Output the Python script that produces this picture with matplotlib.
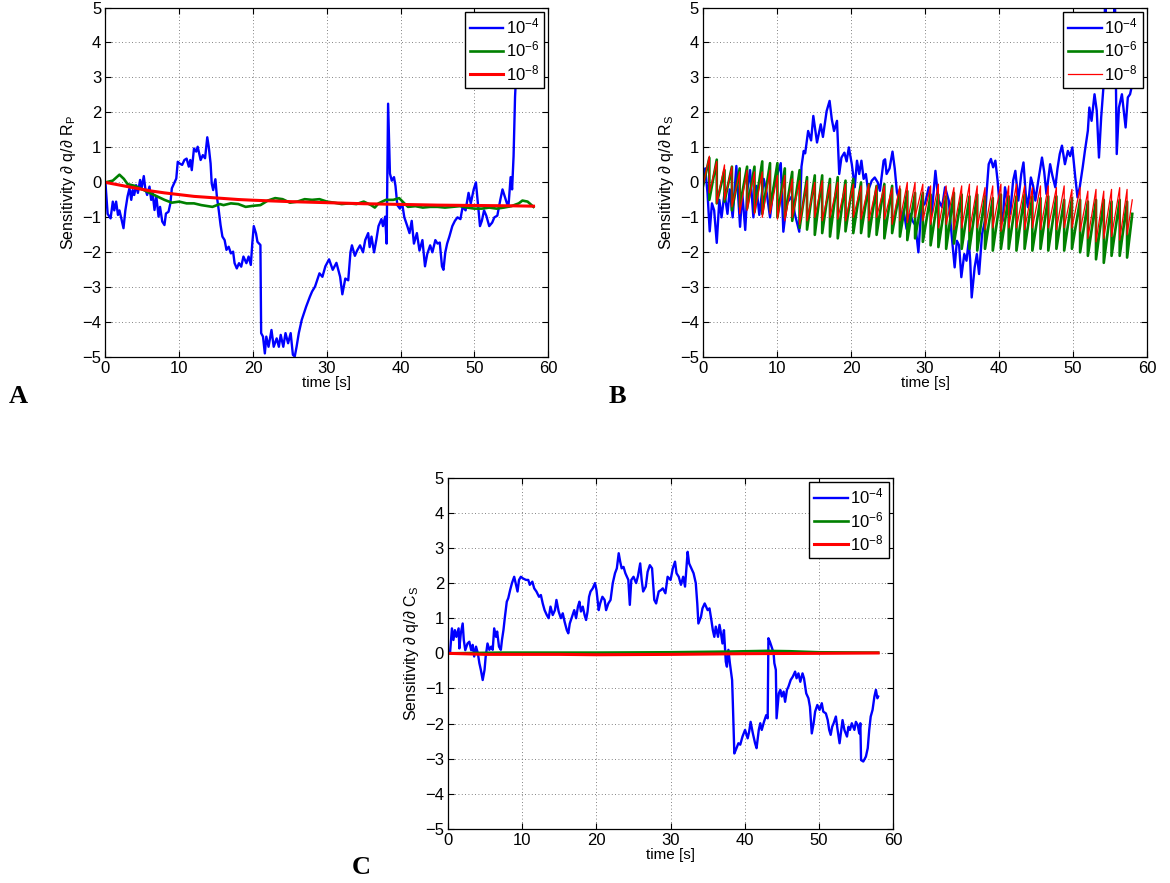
import numpy as np
import matplotlib
matplotlib.use('Agg')
import matplotlib.pyplot as plt
from matplotlib import rcParams

# ---------------- style ----------------
rcParams['font.family'] = ['Liberation Sans', 'DejaVu Sans']
rcParams['mathtext.fontset'] = 'custom'
rcParams['mathtext.rm'] = 'Liberation Sans'
rcParams['mathtext.it'] = 'Liberation Sans:italic'
rcParams['mathtext.bf'] = 'Liberation Sans:bold'

BLUE = '#0000ff'
GREEN = '#008000'
RED = '#ff0000'
labels = ['$10^{-4}$', '$10^{-6}$', '$10^{-8}$']

# ---------------- data: panel A (dq/dRp) ----------------
a_blue_t = [0, 0.3, 0.7, 1.0, 1.2, 1.45, 1.7, 1.9, 2.1, 2.45, 2.7, 3.0, 3.26, 3.5, 3.7, 3.9, 4.16, 4.4,
            4.7, 4.9, 5.2, 5.4, 5.65, 5.97, 6.2, 6.4, 6.65, 6.9, 7.2, 7.4, 7.7, 8.0, 8.2, 8.55, 8.8, 9.0,
            9.3, 9.6, 9.8, 10.05, 10.4, 10.7, 11.0, 11.3, 11.5, 11.7, 12.0, 12.3, 12.5, 12.9, 13.2, 13.5,
            13.8, 14.0, 14.25, 14.4, 14.6, 14.9, 15.1, 15.35, 15.6, 15.85, 16.15, 16.4, 16.7, 17.0, 17.3,
            17.5, 17.8, 18.1, 18.4, 18.7, 19.1, 19.4, 19.7, 19.9, 20.1, 20.4, 20.6, 21.0, 21.1, 21.35, 21.6,
            21.8, 22.1, 22.5, 22.8, 23.2, 23.5, 23.75, 24.1, 24.4, 24.75, 25.1, 25.4, 25.65, 25.9, 26.2,
            26.6, 26.9, 27.2, 27.7, 28.0, 28.4, 28.7, 29.0, 29.4, 29.8, 30.3, 30.8, 31.3, 31.8, 32.1, 32.5,
            32.9, 33.2, 33.4, 33.8, 34.1, 34.5, 34.9, 35.2, 35.6, 35.8, 36.05, 36.4, 36.7, 37.0, 37.4, 37.6,
            37.9, 38.1, 38.3, 38.55, 38.8, 39.1, 39.3, 39.55, 39.9, 40.2, 40.5, 40.9, 41.2, 41.5, 41.8, 42.2,
            42.55, 42.95, 43.3, 43.6, 44.0, 44.3, 44.7, 45.0, 45.3, 45.6, 45.8, 46.05, 46.3, 46.6, 47.0,
            47.35, 47.7, 48.1, 48.4, 48.8, 49.2, 49.5, 49.9, 50.2, 50.5, 50.75, 51.0, 51.3, 51.6, 52.0, 52.4,
            52.7, 53.1, 53.5, 53.8, 54.1, 54.4, 54.6, 54.9, 55.1, 55.3, 55.5, 55.6, 55.9]
a_blue_v = [0, -0.9, -1.03, -0.55, -0.8, -0.55, -0.93, -0.8, -0.98, -1.31, -0.8, -0.4, -0.17, -0.5, -0.22,
            -0.36, -0.08, -0.3, 0.07, -0.17, 0.18, -0.17, -0.36, -0.12, -0.5, -0.31, -0.79, -0.4, -0.98, -0.7,
            -1.12, -1.22, -0.89, -0.84, -0.6, -0.17, -0.03, 0.11, 0.59, 0.54, 0.5, 0.64, 0.68, 0.45, 0.64,
            0.35, 0.97, 0.88, 1.02, 0.64, 0.78, 0.69, 1.29, 1.02, 0.54, -0.03, -0.22, 0.09, -0.4, -0.79,
            -1.22, -1.55, -1.65, -1.93, -1.84, -2.03, -1.98, -2.31, -2.46, -2.31, -2.41, -2.12, -2.31, -2.12,
            -2.36, -1.74, -1.25, -1.46, -1.7, -1.79, -4.31, -4.41, -4.89, -4.41, -4.7, -4.22, -4.7, -4.46,
            -4.7, -4.36, -4.7, -4.31, -4.6, -4.31, -4.93, -4.98, -4.7, -4.31, -3.93, -3.74, -3.55, -3.27,
            -3.12, -2.98, -2.79, -2.6, -2.7, -2.4, -2.2, -2.5, -2.3, -2.7, -3.2, -2.75, -2.8, -2.0, -1.8,
            -2.1, -1.95, -1.8, -2.0, -1.65, -1.45, -1.85, -1.55, -2.0, -1.65, -1.25, -1.05, -1.25, -0.98,
            -1.75, 2.25, 0.25, 0.05, 0.15, -0.1, -0.65, -0.75, -0.6, -1.0, -1.25, -1.45, -1.1, -1.75, -1.45,
            -1.95, -1.65, -2.4, -2.05, -1.8, -2.0, -1.65, -1.75, -1.72, -2.4, -2.5, -2.0, -1.75, -1.55, -1.25,
            -1.1, -1.0, -1.05, -0.7, -0.8, -0.3, -0.6, -0.2, 0.0, -0.7, -1.25, -1.1, -0.8, -0.95, -1.25, -1.15,
            -1.0, -0.95, -0.5, -0.2, -0.4, -0.6, -0.7, 0.15, -0.2, 0.75, 2.45, 2.9, 4.2]

a_green_t = [0, 1.0, 1.9, 2.5, 3.0, 4.0, 5.0, 6.5, 8.0, 9.0, 10.0, 11.0, 12.0, 13.0, 14.5, 15.5, 16.0, 17.0,
             18.0, 19.0, 20.0, 21.0, 22.0, 23.0, 24.0, 25.0, 26.0, 27.0, 28.0, 29.0, 30.0, 31.0, 32.0, 33.0,
             34.0, 35.0, 36.0, 36.5, 37.0, 38.0, 39.0, 39.8, 40.5, 41.0, 42.0, 43.0, 44.0, 45.0, 46.0, 47.0,
             48.0, 49.0, 50.0, 51.0, 52.0, 53.0, 54.0, 55.0, 56.0, 56.5, 57.2, 58.0]
a_green_v = [0, 0.05, 0.22, 0.1, -0.05, -0.1, -0.2, -0.35, -0.5, -0.58, -0.55, -0.6, -0.6, -0.65, -0.7,
             -0.62, -0.65, -0.6, -0.62, -0.7, -0.67, -0.65, -0.52, -0.45, -0.48, -0.58, -0.55, -0.48, -0.5,
             -0.48, -0.55, -0.58, -0.62, -0.6, -0.62, -0.55, -0.65, -0.72, -0.6, -0.5, -0.5, -0.45, -0.6, -0.7,
             -0.68, -0.72, -0.7, -0.7, -0.72, -0.7, -0.68, -0.72, -0.75, -0.75, -0.72, -0.75, -0.72, -0.68,
             -0.6, -0.52, -0.55, -0.7]

a_red_t = [0, 2, 4, 6, 8, 10, 12, 14, 16, 18, 20, 25, 30, 35, 40, 45, 50, 55, 58]
a_red_v = [0, -0.08, -0.16, -0.24, -0.3, -0.35, -0.4, -0.43, -0.46, -0.49, -0.51, -0.55, -0.58, -0.61,
           -0.63, -0.65, -0.66, -0.67, -0.68]

# ---------------- data: panel B (dq/dRs) ----------------
b_blue_t = [0, 0.3, 0.6, 0.9, 1.2, 1.5, 1.85, 2.2, 2.5, 2.9, 3.3, 3.6, 4.0, 4.5, 5.0, 5.3, 5.7, 6.0, 6.35,
            6.8, 7.2, 7.6, 8.2, 8.6, 9.05, 9.5, 10.0, 10.5, 10.85, 11.3, 12.0, 12.4, 13.0, 13.3, 13.6, 13.8,
            14.2, 14.6, 14.9, 15.4, 15.9, 16.2, 16.7, 17.1, 17.4, 17.7, 18.1, 18.4, 18.7, 19.1, 19.4, 19.7,
            20.1, 20.5, 20.8, 21.1, 21.4, 21.7, 22.0, 22.3, 22.8, 23.2, 23.6, 23.9, 24.4, 24.6, 24.8, 25.2,
            25.6, 25.9, 26.2, 26.5, 26.8, 27.1, 27.5, 28.0, 28.3, 28.7, 29.1, 29.5, 30.0, 30.5, 30.9, 31.4,
            31.8, 32.3, 32.7, 33.2, 33.5, 34.0, 34.3, 34.6, 34.9, 35.3, 35.6, 35.9, 36.1, 36.3, 36.7, 37.0,
            37.3, 37.7, 38.1, 38.3, 38.6, 38.9, 39.2, 39.5, 39.8, 40.1, 40.5, 40.8, 41.1, 41.5, 41.9, 42.2,
            42.6, 43.0, 43.3, 43.6, 43.9, 44.3, 44.6, 44.9, 45.3, 45.8, 46.1, 46.4, 46.9, 47.2, 47.6, 47.9,
            48.2, 48.5, 48.9, 49.3, 49.6, 49.9, 50.3, 50.6, 50.9, 51.3, 51.6, 52.0, 52.2, 52.5, 52.9, 53.2,
            53.5, 53.8, 54.1, 54.35, 54.6, 55.0, 55.4, 55.65, 55.9, 56.2, 56.6, 56.9, 57.1, 57.4, 57.7, 57.9]
b_blue_v = [0, 0.4, -0.3, -1.4, -0.6, -0.8, -1.73, -0.5, -1.0, -0.3, -0.9, -0.2, -1.0, 0.47, -1.27, -0.3,
            -1.36, -0.2, 0.35, -1.0, -0.1, -0.93, 0.1, -0.3, -1.0, -0.2, 0.2, 0.55, -1.41, -0.6, -0.4, -0.9,
            -1.41, 0.45, 0.9, 0.83, 1.47, 1.2, 1.9, 1.14, 1.66, 1.3, 2.04, 2.33, 1.8, 1.47, 1.76, 0.24, 0.71,
            0.85, 0.6, 1.0, 0.52, -0.14, 0.62, 0.24, 0.62, 0.1, 0.24, -0.24, 0.05, 0.14, 0.0, -0.24, 0.62,
            0.66, 0.24, 0.4, 0.88, 0.4, -0.28, -0.5, -1.19, -0.8, -1.33, -0.9, -1.1, -1.23, -2.0, -0.71, -0.6,
            -0.14, -0.9, 0.33, -0.5, -0.71, -0.14, -0.52, -1.29, -2.43, -1.67, -1.8, -2.71, -2.05, -2.24,
            -1.67, -2.24, -3.29, -2.43, -2.05, -2.62, -1.48, -1.1, -0.33, 0.52, 0.67, 0.43, 0.62, 0.05,
            -0.71, -1.1, -0.14, -0.5, -0.9, 0.05, 0.33, -0.52, 0.24, 0.57, -0.33, -0.71, 0.14, -0.1, -0.52,
            0.05, 0.71, 0.3, -0.33, 0.52, 0.2, -0.14, 0.4, 0.81, 1.05, 0.52, 0.9, 0.75, 1.0, 0.14, -0.43,
            -0.14, 0.43, 0.9, 1.48, 2.14, 1.76, 2.52, 2.05, 0.71, 1.86, 2.71, 5.5, 3.4, 2.9, 3.9, 5.5, 0.81,
            2.14, 2.52, 1.95, 1.57, 2.43, 2.52, 2.71]

# beat instants (sharp drops) of the sawtooth responses
b_beats = [0.85, 1.85, 2.9, 3.9, 4.95, 5.95, 6.95, 8.0, 9.05, 10.05, 11.05, 12.05, 13.05, 14.05, 15.1,
           16.1, 17.15, 18.2, 19.25, 20.3, 21.35, 22.4, 23.45, 24.5, 25.55, 26.6, 27.6, 28.65, 29.7, 30.75,
           31.8, 32.85, 33.9, 34.95, 36.0, 37.05, 38.1, 39.15, 40.25, 41.3, 42.35, 43.45, 44.5, 45.6,
           46.65, 47.75, 48.8, 49.85, 50.95, 52.0, 53.1, 54.15, 55.2, 56.3, 57.3]
b_green_peak = [0.7, 0.65, 0.35, 0.45, 0.4, 0.45, 0.45, 0.6, 0.55, 0.55,
                0.4, 0.3, 0.35, 0.15, 0.2, 0.2, 0.1, 0.15, 0.05, 0.1,
                0.0, -0.05, -0.1, -0.05, -0.1, -0.2, -0.25, -0.3, -0.3, -0.35,
                -0.35, -0.4, -0.3, -0.35, -0.4, -0.35, -0.4, -0.45, -0.35, -0.4,
                -0.4, -0.35, -0.4, -0.45, -0.4, -0.4, -0.5, -0.45, -0.5, -0.55,
                -0.5, -0.5, -0.55, -0.5, -0.55]
b_green_trough = [-0.5, -0.6, -0.55, -0.8, -0.7, -0.75, -0.85, -0.9, -0.8, -1.0,
                  -1.0, -1.1, -1.3, -1.35, -1.5, -1.45, -1.55, -1.6, -1.4, -1.45,
                  -1.45, -1.55, -1.5, -1.6, -1.45, -1.55, -1.65, -1.6, -1.7, -1.8,
                  -1.85, -1.9, -1.75, -1.9, -1.9, -1.95, -1.9, -1.95, -1.9, -1.9,
                  -1.95, -1.9, -1.95, -1.9, -1.95, -1.9, -1.95, -1.9, -2.0, -2.1,
                  -2.2, -2.3, -2.1, -2.1, -2.15]
b_red_peak = [0.75, 0.6, 0.5, 0.45, 0.3, 0.35, 0.3, 0.3, 0.35, 0.2,
              0.2, 0.1, 0.05, 0.05, 0.0, 0.05, -0.05, 0.0, -0.05, -0.05,
              -0.1, -0.05, -0.1, -0.1, -0.15, -0.1, 0.0, 0.0, -0.05, -0.1,
              -0.05, -0.1, -0.15, -0.1, -0.05, -0.1, -0.15, -0.1, -0.05, -0.1,
              -0.05, -0.1, -0.15, -0.1, -0.1, -0.15, -0.1, -0.2, -0.15, -0.25,
              -0.2, -0.25, -0.2, -0.15, -0.2]
b_red_trough = [-0.3, -0.6, -0.5, -0.7, -0.9, -0.8, -0.9, -1.0, -0.9, -1.05,
                -1.1, -1.0, -1.2, -1.1, -1.0, -1.1, -1.0, -1.05, -1.1, -1.0,
                -1.05, -1.1, -1.0, -1.05, -1.2, -1.1, -1.15, -1.0, -1.1, -1.2,
                -1.3, -1.2, -1.35, -1.3, -1.4, -1.3, -1.35, -1.3, -1.4, -1.3,
                -1.3, -1.35, -1.3, -1.35, -1.3, -1.35, -1.3, -1.3, -1.4, -1.6,
                -1.7, -1.6, -1.55, -1.65, -1.5]
b_start = [-0.1, -0.1]      # green, red at t=0
b_end = [-0.9, -0.5]        # green, red at t=58
t_end = 58.0

# ---------------- data: panel C (dq/dCs) ----------------
c_blue_t = [0, 0.24, 0.5, 0.7, 0.9, 1.1, 1.4, 1.5, 1.7, 1.95, 2.1, 2.3, 2.6, 2.85, 3.1, 3.3, 3.5, 3.75, 4.0,
            4.2, 4.4, 4.65, 4.9, 5.05, 5.3, 5.55, 5.8, 6.0, 6.2, 6.45, 6.6, 6.85, 7.1, 7.25, 7.45, 7.65, 7.9,
            8.1, 8.35, 8.6, 8.9, 9.15, 9.35, 9.55, 9.8, 10.1, 10.5, 10.8, 11.0, 11.35, 11.6, 11.9, 12.25,
            12.5, 12.75, 13.0, 13.3, 13.55, 13.8, 14.1, 14.4, 14.6, 14.9, 15.2, 15.45, 15.7, 16.0, 16.2,
            16.4, 16.7, 17.0, 17.25, 17.5, 17.7, 17.9, 18.15, 18.4, 18.6, 18.8, 19.0, 19.2, 19.5, 19.8, 20.0,
            20.3, 20.5, 20.8, 21.1, 21.3, 21.6, 21.9, 22.2, 22.5, 22.75, 23.0, 23.2, 23.4, 23.65, 23.9, 24.3,
            24.5, 24.7, 25.0, 25.35, 25.6, 25.9, 26.1, 26.3, 26.65, 26.9, 27.2, 27.5, 27.8, 28.05, 28.4,
            28.7, 28.95, 29.3, 29.6, 30.0, 30.3, 30.6, 30.8, 31.1, 31.4, 31.7, 31.95, 32.3, 32.5, 32.9, 33.1,
            33.4, 33.6, 33.75, 34.1, 34.3, 34.6, 35.0, 35.25, 35.5, 35.7, 35.9, 36.1, 36.4, 36.6, 36.8,
            37.0, 37.2, 37.45, 37.6, 37.8, 38.0, 38.3, 38.4, 38.6, 38.8, 39.15, 39.4, 39.7, 40.05, 40.4,
            40.6, 40.8, 41.1, 41.4, 41.6, 41.9, 42.1, 42.3, 42.6, 42.9, 43.1, 43.2, 43.4, 43.7, 43.9, 44.0,
            44.2, 44.3, 44.6, 44.8, 45.0, 45.25, 45.45, 45.7, 45.9, 46.2, 46.5, 46.8, 47.0, 47.25, 47.5,
            47.8, 48.0, 48.3, 48.6, 48.8, 49.05, 49.3, 49.5, 49.8, 50.1, 50.4, 50.6, 50.95, 51.2, 51.4, 51.6,
            51.8, 52.0, 52.3, 52.5, 52.8, 53.0, 53.2, 53.45, 53.8, 54.0, 54.2, 54.45, 54.8, 55.0, 55.25,
            55.45, 55.6, 55.7, 56.0, 56.35, 56.6, 56.8, 57.0, 57.25, 57.5, 57.7, 57.9, 58.0]
c_blue_v = [0, 0.0, 0.71, 0.38, 0.66, 0.47, 0.71, 0.14, 0.57, 0.85, 0.38, 0.09, 0.28, 0.33, 0.09, 0.24,
            -0.09, 0.19, 0.0, -0.28, -0.47, -0.76, -0.47, -0.1, 0.28, 0.1, 0.19, 0.1, 0.71, 0.47, 0.62, 0.19,
            0.1, 0.38, 0.66, 1.04, 1.47, 1.57, 1.8, 2.0, 2.18, 1.95, 1.76, 2.09, 2.18, 2.13, 2.09, 2.09, 1.95,
            2.04, 1.85, 1.76, 1.61, 1.66, 1.42, 1.23, 1.09, 1.0, 1.33, 1.09, 1.23, 1.52, 1.19, 1.0, 1.14,
            0.9, 0.66, 0.57, 0.85, 1.04, 1.23, 1.0, 1.33, 1.47, 1.19, 1.33, 1.09, 0.95, 1.19, 1.61, 1.76,
            1.85, 2.0, 1.8, 1.23, 1.42, 1.61, 1.52, 1.23, 1.42, 1.52, 2.0, 2.28, 2.42, 2.85, 2.61, 2.42,
            2.46, 2.28, 2.09, 1.38, 2.09, 2.18, 2.0, 2.2, 2.56, 2.09, 1.76, 1.9, 2.32, 2.51, 2.42, 1.52,
            1.42, 1.76, 1.8, 1.85, 1.71, 2.18, 2.09, 2.42, 2.61, 2.28, 2.18, 1.95, 2.18, 1.9, 2.89, 2.56,
            2.37, 2.28, 2.0, 1.42, 0.85, 1.04, 1.28, 1.42, 1.23, 1.28, 0.95, 0.66, 0.47, 0.76, 0.47, 0.81,
            0.57, 0.28, 0.66, -0.24, -0.38, 0.1, -0.28, -0.76, -1.42, -2.85, -2.75, -2.56, -2.6, -2.37,
            -2.18, -2.42, -2.23, -1.95, -2.28, -2.56, -2.7, -2.18, -1.99, -2.18, -1.95, -1.76, -1.85, 0.43,
            0.33, 0.14, 0.0, -0.28, -0.47, -1.85, -1.14, -1.04, -1.23, -1.09, -1.38, -1.04, -0.95, -0.76,
            -0.66, -0.52, -0.71, -0.57, -0.81, -0.57, -0.71, -1.14, -1.28, -1.52, -2.28, -1.99, -1.66, -1.47,
            -1.61, -1.42, -1.66, -1.71, -1.9, -2.18, -2.32, -2.09, -1.99, -1.8, -2.13, -2.56, -2.23, -1.9,
            -2.18, -2.37, -2.09, -2.18, -1.99, -2.18, -1.95, -2.04, -2.28, -1.99, -3.04, -3.08, -2.94, -2.7,
            -2.18, -1.8, -1.61, -1.23, -1.04, -1.28, -1.23]

c_green_t = [0, 7, 20, 30, 38, 43, 46, 50, 58]
c_green_v = [0, 0.02, 0.02, 0.03, 0.05, 0.07, 0.06, 0.03, 0.02]
c_red_t = [0, 5, 15, 20, 30, 40, 50, 58]
c_red_v = [0, -0.03, -0.03, -0.04, -0.03, -0.01, 0.0, 0.01]


def sawtooth_path(beats, peaks, troughs, v0, v_end, t_last):
    # join the read-off peak/trough values: slow rise, sharp drop at each beat
    xs, ys = [0.0], [v0]
    for tb, p, q in zip(beats, peaks, troughs):
        xs += [tb, tb]
        ys += [p, q]
    xs.append(t_last)
    ys.append(v_end)
    return xs, ys


def style_axes(ax, ylabel):
    ax.set_xlim(0, 60)
    ax.set_ylim(-5, 5)
    ax.set_xticks(range(0, 61, 10))
    ax.set_yticks(range(-5, 6))
    ax.grid(True, color='0.35', linestyle=(0, (1, 3)), linewidth=0.6)
    ax.tick_params(direction='in', top=True, right=True, length=4, width=0.8,
                   labelsize=12, pad=3)
    for sp in ax.spines.values():
        sp.set_linewidth(0.9)
    ax.set_xlabel('time [s]', fontsize=11, labelpad=0)
    ax.set_ylabel(ylabel, fontsize=11.5, labelpad=3)
    leg = ax.legend(loc='upper right', fontsize=12, fancybox=False, framealpha=1,
                    edgecolor='black', handlelength=2.0, handletextpad=0.15,
                    labelspacing=0.2, borderpad=0.3, borderaxespad=0.25)
    leg.get_frame().set_linewidth(1.0)


fig = plt.figure(figsize=(11.7, 8.83), dpi=100)
fig.set_facecolor('white')

axA = fig.add_axes([0.0901, 0.5954, 0.3785, 0.3961])
axB = fig.add_axes([0.6009, 0.5954, 0.3795, 0.3961])
axC = fig.add_axes([0.3831, 0.0612, 0.3801, 0.3978])

# panel A
axA.plot(a_blue_t, a_blue_v, color=BLUE, linewidth=1.7, label=labels[0])
axA.plot(a_green_t, a_green_v, color=GREEN, linewidth=1.9, label=labels[1])
axA.plot(a_red_t, a_red_v, color=RED, linewidth=2.2, label=labels[2])
style_axes(axA, 'Sensitivity \u2202 q/\u2202 R$_\\mathregular{P}$')

# panel B
gx, gy = sawtooth_path(b_beats, b_green_peak, b_green_trough, b_start[0], b_end[0], t_end)
rx, ry = sawtooth_path(b_beats, b_red_peak, b_red_trough, b_start[1], b_end[1], t_end)
axB.plot(b_blue_t, b_blue_v, color=BLUE, linewidth=1.7, label=labels[0])
axB.plot(gx, gy, color=GREEN, linewidth=1.9, label=labels[1])
axB.plot(rx, ry, color=RED, linewidth=0.9, label=labels[2])
style_axes(axB, 'Sensitivity \u2202 q/\u2202 R$_\\mathregular{S}$')

# panel C
axC.plot(c_blue_t, c_blue_v, color=BLUE, linewidth=1.7, label=labels[0])
axC.plot(c_green_t, c_green_v, color=GREEN, linewidth=1.9, label=labels[1])
axC.plot(c_red_t, c_red_v, color=RED, linewidth=2.2, label=labels[2])
style_axes(axC, 'Sensitivity \u2202 q/\u2202 C$_\\mathregular{S}$')

# panel letters
for letter, x, y in [('A', 18, 397), ('B', 617, 397), ('C', 361, 867)]:
    fig.text(x / 1170, 1 - y / 883, letter, fontsize=19, fontweight='bold',
             family=['Liberation Serif', 'DejaVu Serif'], ha='center', va='center')

fig.savefig('out.png', dpi=100, facecolor='white')
